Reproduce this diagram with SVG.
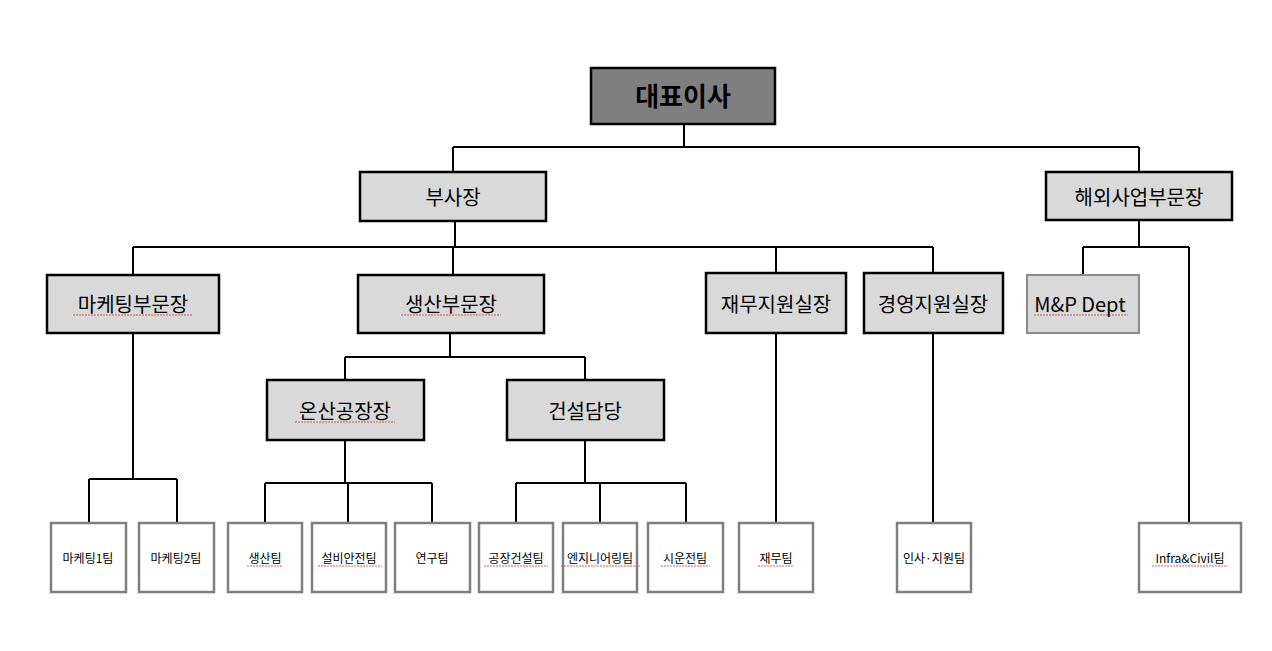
<svg xmlns="http://www.w3.org/2000/svg" width="1272" height="651" viewBox="0 0 1272 651">
<style>
.n{fill:#d9d9d9;stroke:#000;stroke-width:2.5}
.t{fill:#fff;stroke:#7f7f7f;stroke-width:2.5}
.g{fill:#d9d9d9;stroke:#8c8c8c;stroke-width:2}
text{font-family:"Malgun Gothic","Noto Sans CJK KR",sans-serif;text-anchor:middle;dominant-baseline:central;fill:#000}
.l{font-size:20px}.s{font-size:12px}
.c{fill:none;stroke:#000;stroke-width:2}
.w{fill:none;stroke:#e03030;stroke-width:0.8;stroke-dasharray:2 1}
</style>
<rect width="1272" height="651" fill="#fff"/>
<g id="connectors" class="c">
<path d="M684 124V147M453 147H1139M453 147V172M1139 147V172"/>
<path d="M455 221V247M133 247H933M133 247V275M453 247V275M776 247V273M933 247V273"/>
<path d="M1139 220V247M1083 247H1189M1083 247V275M1189 247V523"/>
<path d="M133 333V479M89 479H177M89 479V523M177 479V523"/>
<path d="M450 333V357M345 357H585M345 357V380M585 357V380"/>
<path d="M345 440V483M265 483H432M265 483V523M348 483V523M432 483V523"/>
<path d="M585 440V483M516 483H686M516 483V523M600 483V523M686 483V523"/>
<path d="M776 333V523M933 333V523"/>
</g>
<g id="ceo"><rect x="591" y="68" width="184" height="56" fill="#7f7f7f" stroke="#000" stroke-width="2.5"/><text x="683" y="94" font-size="26" font-weight="bold">대표이사</text></g>
<g id="vp"><rect class="n" x="360" y="172" width="186" height="49"/><text class="l" x="453" y="196">부사장</text></g>
<g id="overseas"><rect class="n" x="1046" y="172" width="186" height="48"/><text class="l" x="1139" y="196">해외사업부문장</text></g>
<g id="marketing"><rect class="n" x="47" y="275" width="172" height="58"/><text class="l" x="133" y="303">마케팅부문장</text><path class="w" d="M73 315H193"/></g>
<g id="production"><rect class="n" x="358" y="275" width="186" height="58"/><text class="l" x="451" y="303">생산부문장</text><path class="w" d="M401 315H501"/></g>
<g id="finance"><rect class="n" x="706" y="273" width="140" height="60"/><text class="l" x="776" y="303">재무지원실장</text></g>
<g id="mgmt"><rect class="n" x="864" y="273" width="139" height="60"/><text class="l" x="933" y="303">경영지원실장</text></g>
<g id="mp"><rect class="g" x="1027" y="275" width="112" height="58"/><text class="l" x="1080" y="303">M&amp;P Dept</text><path class="w" d="M1034 315H1128"/></g>
<g id="onsan"><rect class="n" x="267" y="380" width="157" height="60"/><text class="l" x="345" y="410">온산공장장</text><path class="w" d="M295 422H395"/></g>
<g id="construction"><rect class="n" x="507" y="380" width="157" height="60"/><text class="l" x="585" y="410">건설담당</text></g>
<g id="mkt1"><rect class="t" x="51" y="523" width="75" height="69"/><text class="s" x="88" y="557">마케팅1팀</text></g>
<g id="mkt2"><rect class="t" x="139" y="523" width="75" height="69"/><text class="s" x="176" y="557">마케팅2팀</text></g>
<g id="prodteam"><rect class="t" x="228" y="523" width="74" height="69"/><text class="s" x="265" y="557">생산팀</text><path class="w" d="M247 566H283"/></g>
<g id="safety"><rect class="t" x="312" y="523" width="74" height="69"/><text class="s" x="349" y="557">설비안전팀</text><path class="w" d="M318 566H382"/></g>
<g id="research"><rect class="t" x="395" y="523" width="75" height="69"/><text class="s" x="432" y="557">연구팀</text></g>
<g id="plantbuild"><rect class="t" x="479" y="523" width="74" height="69"/><text class="s" x="516" y="557">공장건설팀</text><path class="w" d="M484 566H548"/></g>
<g id="engineering"><rect class="t" x="563" y="523" width="74" height="69"/><text class="s" x="600" y="557">엔지니어링팀</text><path class="w" d="M561 566H640"/></g>
<g id="commission"><rect class="t" x="648" y="523" width="75" height="69"/><text class="s" x="685" y="557">시운전팀</text><path class="w" d="M661 566H710"/></g>
<g id="financeteam"><rect class="t" x="739" y="523" width="74" height="69"/><text class="s" x="776" y="557">재무팀</text><path class="w" d="M758 566H794"/></g>
<g id="hr"><rect class="t" x="897" y="523" width="74" height="69"/><text class="s" x="934" y="557">인사·지원팀</text></g>
<g id="infra"><rect class="t" x="1139" y="523" width="102" height="69"/><text class="s" x="1190" y="557">Infra&amp;Civil팀</text><path class="w" d="M1152 566H1228"/></g>
</svg>
